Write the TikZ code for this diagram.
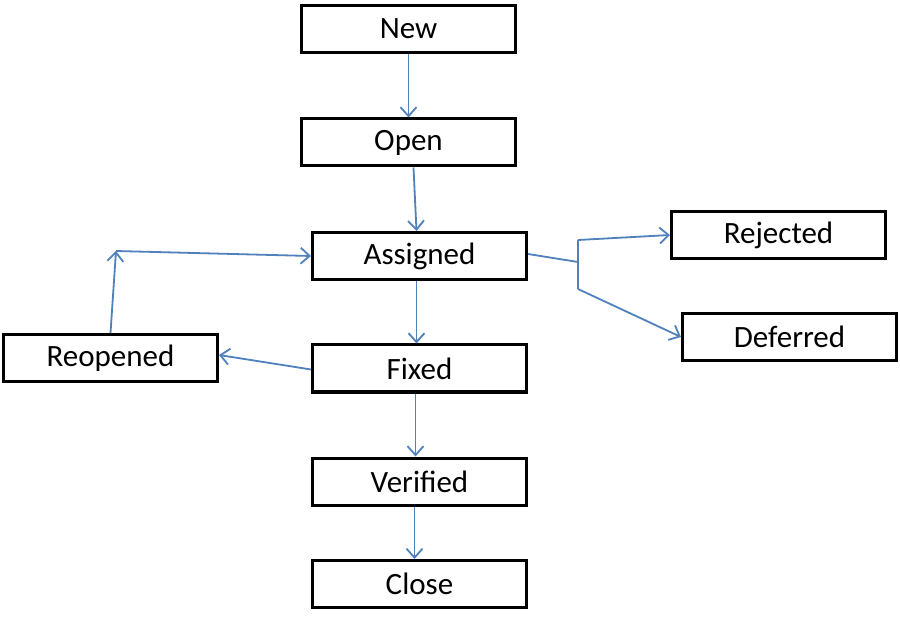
\documentclass[tikz,border=0pt]{standalone}
\usepackage{fontspec}
\setmainfont{Carlito}
\usetikzlibrary{arrows.meta}
\definecolor{flow-blue}{HTML}{4F81BD}

\begin{document}
\begin{tikzpicture}[x=1pt, y=-1pt,
        every node/.style={font=\fontsize{31}{36}\selectfont},
        statebox/.style={draw=black, line width=3pt, fill=white,
          minimum width=214pt, minimum height=47pt, inner sep=0pt},
        flow/.style={flow-blue, line width=1.8pt,
          -{Straight Barb[length=9pt, width=16pt, line width=1.8pt]}},
        link/.style={flow-blue, line width=1.8pt}]
      \useasboundingbox[fill=white] (0,0) rectangle (900,620);
      % main column
      \node[statebox] (new) at (408.5,29) {New};
      \node[statebox] (open) at (408.5,142.5) {Open};
      \node[statebox] (assigned) at (419.5,256) {Assigned};
      \node[statebox] (fixed) at (419.5,368.5) {Fixed};
      \node[statebox] (verified) at (419.5,481.5) {Verified};
      \node[statebox] (close) at (419.5,584) {Close};
      % side states
      \node[statebox] (rejected) at (778.5,235) {Rejected};
      \node[statebox] (deferred) at (789.5,337) {Deferred};
      \node[statebox] (reopened) at (110.5,358) {Reopened};
      \draw[flow] (new.south) -- (open.north);
      \draw[flow] ([xshift=5pt]open.south) -- ([xshift=-3pt]assigned.north);
      \draw[flow] ([xshift=-3pt]assigned.south) -- ([xshift=-3pt]fixed.north);
      \draw[flow] ([xshift=-4pt]fixed.south) -- ([xshift=-4pt]verified.north);
      \draw[flow] ([xshift=-5pt]verified.south) -- ([xshift=-5pt]close.north);
      % back loop
      \draw[flow] ([yshift=-1pt]fixed.west) -- ([yshift=3pt]reopened.east);
      \coordinate (loop) at (116,251);
      \draw[flow] (reopened.north) -- (loop);
      \draw[flow] (loop) -- (assigned.west);
      % fork to the right
      \coordinate (fork) at (578,262);
      \coordinate (forktop) at (578,240);
      \coordinate (forkbot) at (578,289);
      \draw[link] ([yshift=2pt]assigned.east) -- (fork);
      \draw[link] (forktop) -- (forkbot);
      \draw[flow] (forktop) -- (rejected.west);
      \draw[flow] (forkbot) -- (deferred.west);
    \end{tikzpicture}
\end{document}
